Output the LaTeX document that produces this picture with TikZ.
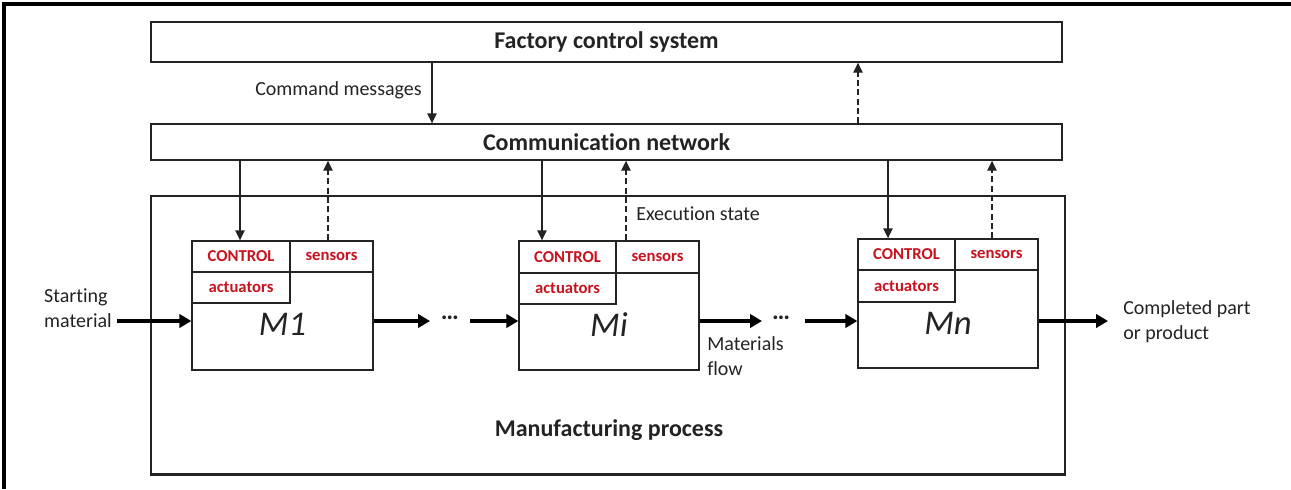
\documentclass[tikz,border=0pt]{standalone}
\usepackage{fontspec}
\setmainfont{Carlito}[Ligatures=NoCommon]
\usetikzlibrary{arrows.meta,fit}
\definecolor{ink}{RGB}{35,35,35}
\definecolor{ctlred}{RGB}{200,18,30}
\tikzset{
  box/.style={draw=ink, line width=1pt, inner sep=0pt},
  celltext/.style={text=ctlred, font=\fontsize{12.5}{14}\selectfont\bfseries, inner sep=0pt},
  title/.style={font=\fontsize{18}{21}\selectfont\bfseries, text=ink, inner sep=0pt},
  lbl/.style={font=\fontsize{15}{18.75}\selectfont, text=ink, inner sep=0pt, align=left},
  mlabel/.style={font=\fontsize{26}{28}\selectfont\itshape, text=ink, inner sep=0pt},
  msg/.style={draw=ink, line width=1pt, -{Triangle[length=7.5pt,width=7pt]}},
  state/.style={msg, dash pattern=on 4.5pt off 2.5pt},
  flow/.style={draw=black, line width=3pt, -{Triangle[length=9pt,width=10pt]}},
  dots/.style={font=\fontsize{19}{20}\selectfont\bfseries, text=ink, inner sep=0pt},
}
% one machine: name, left, top, right, bottom, cell divider x, control row y, actuator bottom y, label
\newcommand\machinebox[9]{%
  \node[box, fit={(#2,#3) (#4,#5)}] (#1) {};
  \node[box, fit={(#2,#3) (#6,#7)}] (#1ctl) {};
  \node[box, fit={(#6,#3) (#4,#7)}] (#1sen) {};
  \node[box, fit={(#2,#7) (#6,#8)}] (#1act) {};
  \node[celltext] at (#1ctl.center) {CONTROL};
  \node[celltext] at (#1sen.center) {sensors};
  \node[celltext] at (#1act.center) {actuators};
  \node[mlabel] (#1lbl) at ({(#2+#4)/2},{#8+21}) {#9};
}
\begin{document}
\begin{tikzpicture}[x=0.75pt, y=-0.75pt]
\useasboundingbox (0,0) rectangle (1291,489);
% page frame
\draw[line width=2.4pt] (4,489) -- (4,4) -- (1291,4);

% control levels
\node[box, fit={(151,22) (1062,62)}] (fcs) {};
\node[title] (fcst) at (fcs.center) {Factory control system};
\node[box, fit={(151,124) (1062,160)}] (cn) {};
\node[title] (cnt) at (cn.center) {Communication network};

% manufacturing process
\node[box, fit={(151,196) (1065,474)}] (mp) {};
\draw[line width=2pt, ink] (mp.south west) -- (mp.south east);
\node[title] (mpl) at (609,430) {Manufacturing process};

% machines
\machinebox{ma}{192}{241}{373}{370}{290}{272}{303}{M1}
\machinebox{mb}{519}{241}{699}{370}{616}{273}{304}{Mi}
\machinebox{mc}{858}{239}{1038}{368}{955}{270}{302}{Mn}

% command and state messages between the levels
\coordinate (cmd) at (432,0);
\coordinate (rep) at (858,0);
\draw[msg] (fcs.south -| cmd) -- (cn.north -| cmd);
\draw[state] (cn.north -| rep) -- (fcs.south -| rep);
\node[lbl, anchor=east] (cmdl) at (422,90) {Command messages};

\coordinate (da) at (240,0);
\coordinate (ua) at (328,0);
\coordinate (db) at (542,0);
\coordinate (ub) at (626,0);
\coordinate (dc) at (888,0);
\coordinate (uc) at (992,0);
\draw[msg] (cn.south -| da) -- (da |- mactl.north);
\draw[state] (ua |- masen.north) -- (ua |- cn.south);
\draw[msg] (cn.south -| db) -- (db |- mbctl.north);
\draw[state] (ub |- mbsen.north) -- (ub |- cn.south);
\draw[msg] (cn.south -| dc) -- (dc |- mcctl.north);
\draw[state] (uc |- mcsen.north) -- (uc |- cn.south);
\node[lbl, anchor=west] (exs) at (636,214) {Execution state};

% materials flow
\coordinate (fy) at (0,321);
\coordinate (fin) at (117,321);
\coordinate (g1a) at (430,321);
\coordinate (g1b) at (470,321);
\coordinate (g2a) at (762,321);
\coordinate (g2b) at (805,321);
\coordinate (fout) at (1108,321);
\node[lbl] (sm) at (78,308) {Starting\\material};
\draw[flow] (fin) -- (fin -| ma.west);
\draw[flow] (ma.east |- fy) -- (g1a);
\node[dots] (d1) at (450,318) {…};
\draw[flow] (g1b) -- (g1b -| mb.west);
\draw[flow] (mb.east |- fy) -- (g2a);
\node[dots] (d2) at (781,318) {…};
\draw[flow] (g2b) -- (g2b -| mc.west);
\draw[flow] (mc.east |- fy) -- (fout);
\node[lbl, anchor=north west] (mfl) at (707,336) {Materials\\flow};
\node[lbl, anchor=north west] (cpp) at (1123,300) {Completed part\\or product};
\end{tikzpicture}
\end{document}
